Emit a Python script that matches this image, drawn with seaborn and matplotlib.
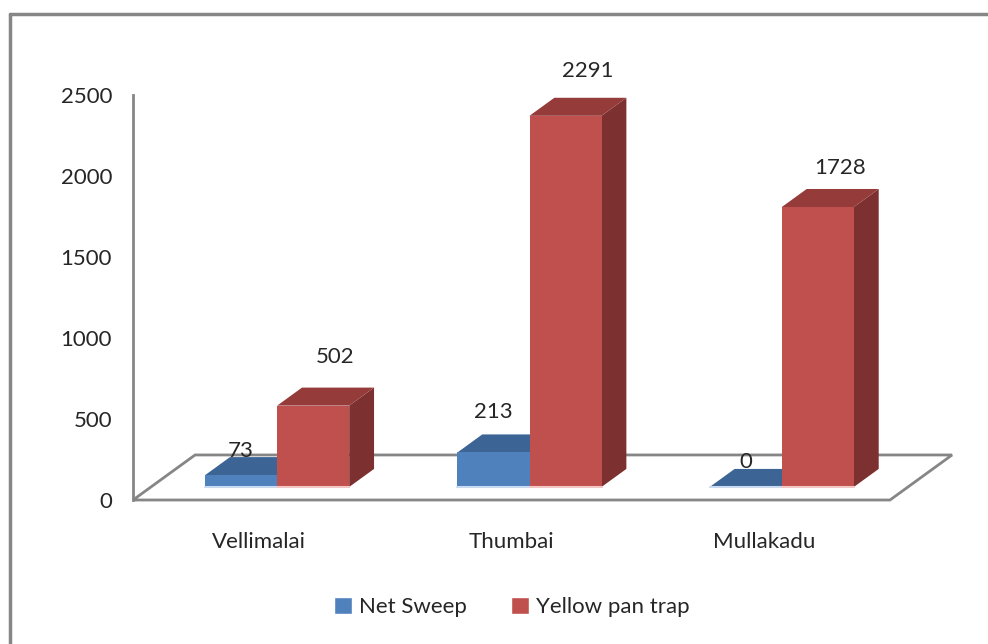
import numpy as np
import pandas as pd
import seaborn as sns
import matplotlib.pyplot as plt
from matplotlib.patches import Polygon, Patch
from matplotlib.lines import Line2D

sites = ['Vellimalai', 'Thumbai', 'Mullakadu']
net_sweep = [73, 213, 0]
yellow_pan = [502, 2291, 1728]
methods = ['Net Sweep', 'Yellow pan trap']
y_ticks = [0, 500, 1000, 1500, 2000, 2500]

BLUE = {'front': '#4F81BD', 'top': '#3C6494', 'side': '#375C88', 'edge': '#C9DAF0'}
RED = {'front': '#C0504D', 'top': '#953B39', 'side': '#7C302F', 'edge': '#F2C6C5'}
GRAY = '#868686'
FS = 16

# depth of the floor in data units (x in categories, y in values)
DX, DY = 0.246, 278
F0, F1 = 0.29, 0.69  # front and back of the bars inside the floor depth

sns.set_style('white')
plt.rcParams['font.family'] = ['Lato', 'DejaVu Sans']

df = pd.DataFrame({
    'site': sites * 2,
    'count': net_sweep + yellow_pan,
    'method': [methods[0]] * 3 + [methods[1]] * 3,
})

fig = plt.figure(figsize=(9.88, 6.44), dpi=100)
ax = fig.add_axes([133 / 988, (644 - 500) / 644, (890 - 133) / 988, (500 - 95) / 644])

sns.barplot(data=df, x='site', y='count', hue='method', palette=[BLUE['front'], RED['front']],
            width=0.571, saturation=1, errorbar=None, legend=False, ax=ax, zorder=3,
            linewidth=0, edgecolor='none')

# floor of the 3d box
floor = Polygon([(-0.5, 0), (2.5, 0), (2.5 + DX, DY), (-0.5 + DX, DY)], closed=True,
                facecolor='none', edgecolor=GRAY, lw=2, clip_on=False, zorder=1)
ax.add_patch(floor)

ddx, ddy = (F1 - F0) * DX, (F1 - F0) * DY
bars = list(ax.patches)[:6]
label_offsets = [(0, 6), (0, 22), (0, 7), (22, 31), (22, 27), (22, 21)]
for i, p in enumerate(bars):
    col = BLUE if i < 3 else RED
    val = (net_sweep + yellow_pan)[i]
    x0, w = p.get_x(), p.get_width()
    xa, ya = x0 + F0 * DX, F0 * DY
    p.set_xy((xa, ya))
    p.set_height(val)
    p.set_linewidth(0)
    p.set_clip_on(False)
    z = 3 + i // 3 * 2
    p.set_zorder(z + 1)
    top = Polygon([(xa, ya + val), (xa + w, ya + val), (xa + w + ddx, ya + val + ddy),
                   (xa + ddx, ya + val + ddy)], closed=True, facecolor=col['top'],
                  edgecolor='none', clip_on=False, zorder=z)
    side = Polygon([(xa + w, ya), (xa + w, ya + val), (xa + w + ddx, ya + val + ddy),
                    (xa + w + ddx, ya + ddy)], closed=True, facecolor=col['side'],
                   edgecolor='none', clip_on=False, zorder=z)
    ax.add_patch(side)
    ax.add_patch(top)
    ax.plot([xa, xa + w], [ya, ya], color=col['edge'], lw=1.5, clip_on=False, zorder=z + 1.5)
    ax.annotate(str(val), (xa + w / 2, ya + val + ddy), xytext=label_offsets[i],
                textcoords='offset pixels', ha='center', va='center', fontsize=FS,
                annotation_clip=False, zorder=10)

ax.set_xlim(-0.5, 2.5)
ax.set_ylim(0, 2500)
ax.set_yticks(y_ticks)
ax.set_xlabel('')
ax.set_ylabel('')
for s in ['top', 'right']:
    ax.spines[s].set_visible(False)
ax.spines['left'].set_color(GRAY)
ax.spines['left'].set_linewidth(2)
ax.spines['bottom'].set_visible(False)
ax.set_xticks([-0.5, 0.5, 1.5, 2.5], minor=True)
ax.tick_params(axis='x', which='major', length=0, pad=23, labelsize=FS)
ax.tick_params(axis='x', which='minor', length=7, width=2, color=GRAY, direction='out')
ax.tick_params(axis='y', length=6, width=2, color=GRAY, direction='out', pad=9, labelsize=FS)

# chart area border (right and bottom are cropped off)
fig.add_artist(Line2D([10 / 988, 10 / 988], [0, 1 - 14 / 644], color=GRAY, lw=2.5,
                      transform=fig.transFigure))
fig.add_artist(Line2D([10 / 988, 1], [1 - 14 / 644, 1 - 14 / 644], color=GRAY, lw=2.5,
                      transform=fig.transFigure))

handles = [Patch(facecolor=BLUE['front']), Patch(facecolor=RED['front'])]
fig.legend(handles, methods, loc='center', bbox_to_anchor=(0.518, 0.0575), ncol=2,
           frameon=False, handlelength=0.8, handleheight=0.8, handletextpad=0.3,
           columnspacing=2.0, fontsize=FS)

fig.savefig('out.png', dpi=100)
